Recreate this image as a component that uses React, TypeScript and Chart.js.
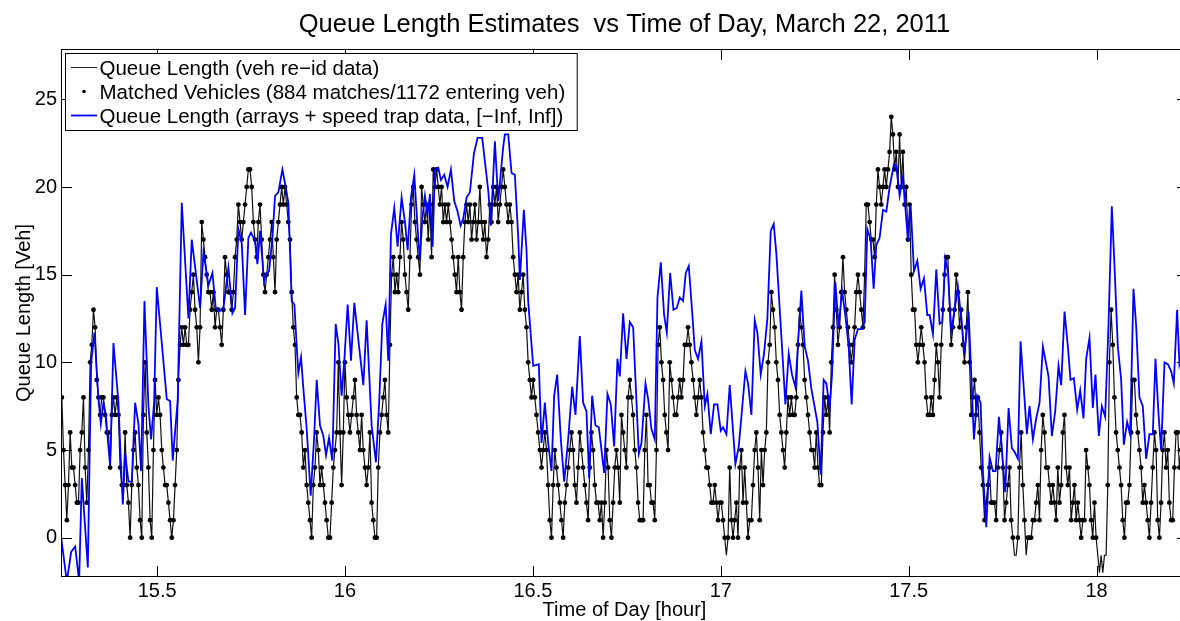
import { useEffect, useRef } from 'react';
import { Chart, registerables } from 'chart.js';

Chart.register(...registerables);

const FONT = "'Liberation Sans', Arial, Helvetica, sans-serif";

const chartTitle = 'Queue Length Estimates  vs Time of Day, March 22, 2011';
const xAxisTitle = 'Time of Day [hour]';
const yAxisTitle = 'Queue Length [Veh]';
const seriesLabels = [
  'Queue Length (veh re\u2212id data)',
  'Matched Vehicles (884 matches/1172 entering veh)',
  'Queue Length (arrays + speed trap data, [\u2212Inf, Inf])',
];

const xTicks = [15.5, 16, 16.5, 17, 17.5, 18];
const yTicks = [0, 5, 10, 15, 20, 25];
const xLimits = [15.2442, 18.2435];
const yLimits = [-2.24, 27.87];

// Re-identification queue estimate, one sample every ~16 s
const reidStartHour = 15.2464;
const reidStepHour = 0.0044325;
const reidQueue = [
  8, 5, 3, 1, 3, 6, 4, 4, 3, 2, 2, 5, 6, 8, 4, 2, 5, 10, 11, 13, 12, 9, 8, 7, 8, 8, 7, 6, 6, 4,
  7, 8, 7, 8, 7, 4, 3, 3, 6, 3, 2, 0, 3, 5, 6, 4, 3, 1, 0, 7, 10, 6, 4, 1, 0, 5, 9, 7, 8, 7,
  5, 4, 3, 3, 2, 1, 0, 1, 3, 5, 9, 11, 12, 11, 12, 11, 11, 13, 14, 15, 13, 12, 10, 12,
  18, 17, 16, 15, 14, 14, 13, 14, 12, 13, 13, 12, 11, 13, 16, 15, 14, 14, 13, 14, 16, 17, 19, 18, 17, 18, 19, 20, 21, 21,
  20, 18, 17, 16, 18, 19, 17, 15, 14, 15, 16, 17, 18, 16, 14, 17, 18, 19, 20, 19, 20, 19, 18, 17, 14, 12, 11, 8, 7, 7,
  6, 4, 5, 3, 2, 1, 0, 3, 4, 6, 5, 3, 4, 3, 2, 1, 0, 0, 2, 4, 5, 6, 10, 6,
  3, 6, 10, 8, 7, 6, 7, 8, 9, 7, 6, 5, 7, 5, 4, 3, 4, 6, 2, 1, 0, 0, 4, 6, 7, 8, 9, 7, 6, 11,
  15, 16, 14, 15, 14, 16, 18, 17, 15, 14, 13, 16, 19, 20, 18, 17, 16, 15, 20, 19, 18, 19, 17, 19, 16, 21, 20, 21, 20, 19,
  20, 18, 19, 18, 19, 18, 17, 16, 15, 14, 16, 14, 13, 16, 18, 19, 18, 19, 17, 18, 19, 17, 18, 20,
  18, 17, 18, 16, 17, 19, 18, 20, 19, 20, 18, 19, 20, 21, 20, 19, 18, 19, 18, 16, 15, 14, 15, 13, 14, 15, 13, 12, 10, 9,
  8, 9, 8, 7, 6, 5, 4, 5, 6, 5, 3, 1, 0, 3, 5, 4, 3, 2, 1, 0, 2, 3, 4, 5, 6, 5, 3, 2, 4, 6,
  5, 4, 3, 2, 1, 4, 6, 5, 3, 2, 2, 1, 2, 0, 2, 5, 4, 1, 0, 2, 4, 5, 4, 2,
  7, 6, 5, 4, 8, 9, 8, 7, 5, 4, 2, 1, 1, 1, 5, 7, 3, 3, 2, 2, 1, 5, 11, 12, 10, 9, 7, 6, 5, 10,
  9, 8, 7, 7, 8, 9, 8, 9, 11, 11, 12, 11, 10, 9, 8, 7, 8, 9, 8, 6, 5, 4, 4, 3, 2, 2, 3, 2, 1, 2,
  2, 1, 0, -1, 0, 4, 1, 0, 1, 2, 0, 4, 5, 2, 4, 2, 0, 1, 1, 3, 5, 6, 4, 1,
  5, 3, 5, 6, 10, 11, 14, 13, 12, 10, 9, 7, 6, 5, 4, 6, 8, 7, 8, 7, 7, 8, 11, 13, 12, 11, 9, 8, 7, 6,
  5, 5, 4, 6, 4, 3, 3, 6, 8, 7, 8, 6, 10, 12, 15, 13, 11, 12, 14, 16, 14, 13, 12, 11, 10, 11, 12, 14, 15, 14,
  13, 12, 15, 19, 19, 18, 17, 17, 16, 19, 21, 20, 19, 20, 21, 20, 21, 22, 24, 23, 21, 22, 20, 23,
  20, 22, 19, 20, 17, 19, 15, 13, 13, 11, 10, 11, 12, 11, 10, 8, 7, 7, 8, 7, 9, 11, 10, 8, 11, 13, 15, 16, 16, 13,
  11, 12, 13, 15, 14, 12, 13, 11, 10, 12, 14, 10, 7, 8, 9, 7, 8, 6, 4, 3, 1, 2, 3, 4, 2, 2, 2, 1, 4, 5,
  6, 4, 1, 2, 3, 4, 1, 0, -1, -1, 0, 4, 6, 3, 1, -1, 0, 0, 0, 1, 1, 2, 3, 1,
  5, 7, 6, 4, 4, 3, 2, 3, 2, 1, 4, 2, 3, 6, 7, 4, 3, 4, 1, 2, 3, 1, 2, 1, 0, 1, 1, 5, 4, 3,
  1, 0, 2, 0, -1, -2, -1, -2, -1, -1, 3, 10, 13, 11, 8, 6, 5, 4, 3, 1, 0, 2, 2, 3, 6, 9, 9, 7, 6, 5,
  4, 2, 3, 2, 1, 0, 2, 4, 6, 5, 1, 0, 2, 5, 6, 4, 5, 2, 1, 1, 4, 6, 6, 4, 5, 6,
];

// Detector-array / speed-trap queue estimate
const loopHours = [
  15.2447, 15.2597, 15.2713, 15.2819, 15.2925, 15.2996, 15.3156, 15.3244, 15.3333, 15.3439,
  15.3502, 15.3572, 15.3635, 15.3688, 15.3750, 15.3838, 15.3909, 15.3971, 15.4033, 15.4087,
  15.4149, 15.4237, 15.4326, 15.4415, 15.4503, 15.4574, 15.4663, 15.4769, 15.4840, 15.4920,
  15.4991, 15.5257, 15.5345, 15.5416, 15.5549, 15.5656, 15.5833, 15.5922, 15.6144, 15.6233,
  15.6366, 15.6472, 15.6561, 15.6649, 15.6765, 15.6898, 15.7004, 15.7075, 15.7163, 15.7252,
  15.7341, 15.7429, 15.7500, 15.7607, 15.7669, 15.7740, 15.7846, 15.7890, 15.7979, 15.8068,
  15.8139, 15.8227, 15.8334, 15.8405, 15.8493, 15.8582, 15.8653, 15.8715, 15.8759, 15.8830,
  15.8892, 15.8981, 15.9087, 15.9176, 15.9247, 15.9335, 15.9424, 15.9495, 15.9575, 15.9663,
  15.9752, 15.9823, 15.9911, 15.9982, 16.0071, 16.0160, 16.0248, 16.0355, 16.0488, 16.0576,
  16.0709, 16.0824, 16.0913, 16.0993, 16.1082, 16.1152, 16.1223, 16.1312, 16.1401, 16.1507,
  16.1596, 16.1667, 16.1755, 16.1844, 16.1933, 16.1995, 16.2057, 16.2128, 16.2198, 16.2261,
  16.2331, 16.2394, 16.2482, 16.2553, 16.2642, 16.2730, 16.2819, 16.2908, 16.2996, 16.3076,
  16.3147, 16.3236, 16.3324, 16.3431, 16.3528, 16.3652, 16.3812, 16.3883, 16.3989, 16.4078,
  16.4211, 16.4255, 16.4344, 16.4432, 16.4521, 16.4609, 16.4654, 16.4760, 16.4831, 16.4875,
  16.5008, 16.5159, 16.5230, 16.5319, 16.5407, 16.5496, 16.5567, 16.5647, 16.5744, 16.5833,
  16.5939, 16.6046, 16.6134, 16.6249, 16.6338, 16.6427, 16.6498, 16.6577, 16.6666, 16.6755,
  16.6897, 16.6985, 16.7074, 16.7163, 16.7251, 16.7313, 16.7402, 16.7491, 16.7580, 16.7669,
  16.7731, 16.7819, 16.7890, 16.7997, 16.8068, 16.8156, 16.8245, 16.8316, 16.8404, 16.8493,
  16.8564, 16.8653, 16.8741, 16.8830, 16.8910, 16.8998, 16.9069, 16.9149, 16.9238, 16.9309,
  16.9397, 16.9486, 16.9575, 16.9645, 16.9734, 16.9823, 16.9911, 17.0000, 17.0062, 17.0151,
  17.0239, 17.0390, 17.0479, 17.0656, 17.0727, 17.0816, 17.0904, 17.0975, 17.1064, 17.1152,
  17.1241, 17.1330, 17.1409, 17.1480, 17.1613, 17.1720, 17.1808, 17.1897, 17.1986, 17.2074,
  17.2145, 17.2234, 17.2322, 17.2411, 17.2571, 17.2659, 17.2739, 17.2810, 17.2899, 17.2961,
  17.3049, 17.3138, 17.3227, 17.3315, 17.3404, 17.3484, 17.3564, 17.3652, 17.3759, 17.3830,
  17.3900, 17.3989, 17.4069, 17.4140, 17.4228, 17.4317, 17.4406, 17.4494, 17.4610, 17.4672,
  17.4760, 17.4849, 17.4983, 17.5053, 17.5142, 17.5231, 17.5319, 17.5408, 17.5497, 17.5559,
  17.5647, 17.5736, 17.5825, 17.5896, 17.5975, 17.6046, 17.6135, 17.6224, 17.6312, 17.6401,
  17.6490, 17.6596, 17.6667, 17.6738, 17.6826, 17.6915, 17.6977, 17.7066, 17.7155, 17.7243,
  17.7314, 17.7403, 17.7482, 17.7571, 17.7660, 17.7748, 17.7819, 17.7908, 17.7979, 17.8085,
  17.8147, 17.8218, 17.8307, 17.8395, 17.8484, 17.8573, 17.8723, 17.8812, 17.8901, 17.8989,
  17.9060, 17.9149, 17.9238, 17.9308, 17.9397, 17.9486, 17.9566, 17.9654, 17.9725, 17.9814,
  17.9902, 17.9973, 18.0062, 18.0142, 18.0230, 18.0319, 18.0408, 18.0479, 18.0567, 18.0656,
  18.0727, 18.0815, 18.0895, 18.0984, 18.1055, 18.1143, 18.1232, 18.1321, 18.1409, 18.1498,
  18.1569, 18.1649, 18.1720, 18.1809, 18.1897, 18.1986, 18.2057, 18.2145, 18.2207, 18.2290,
  18.2380,
];
const loopQueue = [
  0, -2.5, -0.8, -0.5, -2.5, 3.4, -1.7, 10.0, 11.7, 7.9,
  6.5, 7.7, 7.0, 5.6, 4.1, 11.1, 9.3, 7.7, 4.4, 1.9,
  4.8, 3.2, 3.2, 7.7, 6.5, 3.8, 13.5, 7.5, 5.6, 7.7,
  14.3, 7.9, 7.8, 4.4, 7.9, 19.1, 12.5, 17.0, 13.1, 16.3,
  14.4, 15.1, 13.1, 12.9, 13.1, 15.4, 12.8, 13.1, 17.6, 16.8,
  12.7, 17.1, 17.4, 16.9, 15.6, 17.5, 14.6, 15.0, 15.2, 17.1,
  19.5, 19.7, 21.0, 20.2, 19.1, 13.5, 13.3, 10.9, 9.4, 10.3,
  8.5, 6.2, 2.4, 5.6, 9.0, 6.4, 5.8, 4.7, 5.7, 4.4,
  12.2, 11.1, 8.1, 10.1, 13.3, 10.1, 13.4, 11.3, 8.7, 12.4,
  6.4, 4.3, 7.9, 12.2, 13.3, 10.1, 17.3, 18.8, 16.6, 19.4,
  18.0, 16.4, 19.4, 20.7, 17.6, 15.8, 18.2, 19.5, 18.4, 19.6,
  16.6, 21.0, 21.1, 20.4, 20.7, 20.0, 21.0, 19.2, 18.6, 17.8,
  18.2, 19.4, 19.7, 21.9, 22.8, 22.8, 19.8, 17.8, 22.6, 19.2,
  22.3, 23.0, 23.0, 20.8, 20.7, 17.2, 14.7, 18.7, 16.4, 13.5,
  9.8, 9.9, 5.4, 7.7, 5.4, 3.8, 8.1, 9.3, 5.6, 3.2,
  5.6, 8.6, 7.0, 11.5, 7.7, 7.2, 3.4, 8.1, 6.4, 6.3,
  3.7, 8.2, 7.6, 5.2, 10.2, 9.2, 12.8, 10.2, 12.3, 12.0,
  9.0, 4.8, 5.4, 8.8, 7.9, 6.2, 5.6, 13.7, 15.7, 12.7,
  11.7, 15.1, 13.0, 13.1, 13.7, 13.5, 15.1, 15.5, 12.9, 10.7,
  10.2, 11.2, 7.5, 8.2, 5.9, 7.6, 7.6, 6.1, 6.3, 5.9,
  8.7, 4.2, 5.2, 9.5, 8.8, 7.0, 12.4, 11.7, 9.3, 10.5,
  12.5, 17.5, 17.9, 16.2, 11.5, 7.6, 10.5, 9.3, 8.6, 11.7,
  14.1, 10.9, 10.1, 8.5, 6.6, 3.6, 9.0, 8.8, 7.4, 9.3,
  14.6, 12.0, 14.1, 12.7, 10.9, 7.6, 11.3, 11.9, 11.9, 12.3,
  17.6, 17.0, 14.2, 16.7, 17.1, 18.7, 18.6, 20.0, 21.3, 21.2,
  19.5, 20.6, 16.9, 19.0, 15.2, 15.8, 14.2, 14.8, 12.7, 12.7,
  11.6, 15.3, 12.2, 12.3, 15.9, 15.2, 11.8, 13.0, 14.3, 12.5,
  10.5, 12.9, 9.3, 5.6, 8.1, 7.7, 3.8, 0.6, 4.6, 3.8,
  3.8, 6.9, 5.0, 2.6, 7.4, 5.1, 4.9, 4.5, 11.2, 7.9,
  5.9, 7.5, 5.6, 6.8, 7.7, 10.9, 9.2, 5.8, 7.2, 9.8,
  8.7, 12.9, 10.9, 9.0, 9.1, 7.3, 8.4, 6.8, 10.2, 11.4,
  7.4, 9.3, 5.8, 7.5, 6.9, 12.1, 18.9, 15.5, 10.9, 9.0,
  5.3, 6.6, 5.9, 14.2, 12.1, 8.0, 7.5, 4.5, 5.9, 5.9,
  10.2, 7.1, 5.0, 10.0, 9.9, 9.5, 8.8, 13.0, 9.9, 10.6,
  11.5,
];

const TICK_LEN = 11;

// MATLAB-style frame: inward ticks on all four sides, box, legend and texts
const matlabFrame = {
  id: 'matlabFrame',
  beforeDatasetsDraw(chart: any) {
    const { ctx, chartArea: a, scales } = chart;
    ctx.save();
    ctx.strokeStyle = '#000';
    ctx.lineWidth = 1;
    ctx.beginPath();
    for (const v of xTicks) {
      const px = Math.round(scales.x.getPixelForValue(v)) + 0.5;
      ctx.moveTo(px, a.bottom);
      ctx.lineTo(px, a.bottom - TICK_LEN);
      ctx.moveTo(px, a.top);
      ctx.lineTo(px, a.top + TICK_LEN);
    }
    for (const v of yTicks) {
      const py = Math.round(scales.y.getPixelForValue(v)) + 0.5;
      ctx.moveTo(a.left, py);
      ctx.lineTo(a.left + TICK_LEN, py);
      ctx.moveTo(a.right, py);
      ctx.lineTo(a.right - TICK_LEN, py);
    }
    ctx.stroke();
    ctx.restore();
  },
  afterDatasetsDraw(chart: any) {
    const { ctx, chartArea: a } = chart;
    ctx.save();
    ctx.strokeStyle = '#000';
    ctx.lineWidth = 1;
    ctx.strokeRect(a.left + 0.5, a.top + 0.5, a.right - a.left, a.bottom - a.top - 1);

    // legend box
    ctx.font = `20.5px ${FONT}`;
    const boxX = a.left + 4.5;
    const boxY = a.top + 4.5;
    const textX = a.left + 38.5;
    const maxW = Math.max(...seriesLabels.map((t) => ctx.measureText(t).width));
    const boxW = textX + maxW + 12 - boxX;
    const boxH = 77;
    ctx.fillStyle = '#fff';
    ctx.fillRect(boxX, boxY, boxW, boxH);
    ctx.strokeRect(boxX, boxY, boxW, boxH);
    const rows = [boxY + 14, boxY + 38, boxY + 62];
    const sx0 = a.left + 10;
    const sx1 = a.left + 36;
    ctx.beginPath();
    ctx.strokeStyle = '#222';
    ctx.lineWidth = 1;
    ctx.moveTo(sx0, rows[0]);
    ctx.lineTo(sx1, rows[0]);
    ctx.stroke();
    ctx.beginPath();
    ctx.fillStyle = '#000';
    ctx.arc((sx0 + sx1) / 2, rows[1], 1.8, 0, Math.PI * 2);
    ctx.fill();
    ctx.beginPath();
    ctx.strokeStyle = '#0000ff';
    ctx.lineWidth = 1.8;
    ctx.moveTo(sx0, rows[2]);
    ctx.lineTo(sx1, rows[2]);
    ctx.stroke();
    ctx.fillStyle = '#000';
    ctx.textAlign = 'left';
    ctx.textBaseline = 'alphabetic';
    seriesLabels.forEach((t, i) => ctx.fillText(t, textX, rows[i] + 7.5));
    ctx.restore();
  },
  afterDraw(chart: any) {
    const { ctx, chartArea: a } = chart;
    const cx = (a.left + a.right) / 2;
    ctx.save();
    ctx.fillStyle = '#000';
    ctx.textAlign = 'center';
    ctx.textBaseline = 'alphabetic';
    ctx.font = `25.5px ${FONT}`;
    ctx.fillText(chartTitle, cx, 31.5);
    ctx.font = `20px ${FONT}`;
    ctx.fillText(xAxisTitle, cx, 616);
    ctx.translate(30, (a.top + a.bottom) / 2);
    ctx.rotate(-Math.PI / 2);
    ctx.fillText(yAxisTitle, 0, 0);
    ctx.restore();
  },
};

export default function App() {
  const canvasRef = useRef<HTMLCanvasElement | null>(null);

  useEffect(() => {
    const canvas = canvasRef.current;
    if (!canvas) return;

    const reidPoints = reidQueue.map((q, i) => ({ x: reidStartHour + i * reidStepHour, y: q }));
    const matchedPoints = reidPoints.filter((p) => p.y >= 0);
    const loopPoints = loopHours.map((h, i) => ({ x: h, y: loopQueue[i] }));

    const tickFont = { family: FONT, size: 20 };

    const chart = new Chart(canvas, {
      type: 'scatter',
      data: {
        datasets: [
          {
            label: seriesLabels[2],
            data: loopPoints,
            showLine: true,
            borderColor: '#0000ff',
            borderWidth: 1.8,
            pointRadius: 0,
            tension: 0,
            clip: 0,
            order: 0,
          },
          {
            label: seriesLabels[1],
            data: matchedPoints,
            showLine: false,
            pointRadius: 2.4,
            pointBackgroundColor: '#000',
            pointBorderWidth: 0,
            clip: 0,
            order: 1,
          },
          {
            label: seriesLabels[0],
            data: reidPoints,
            showLine: true,
            borderColor: '#111',
            borderWidth: 1.2,
            pointRadius: 0,
            tension: 0,
            clip: 0,
            order: 2,
          },
        ],
      },
      options: {
        responsive: false,
        animation: false,
        devicePixelRatio: 1,
        events: [],
        layout: { padding: { top: 49, right: 12, left: 0, bottom: 0 } },
        plugins: {
          legend: { display: false },
          tooltip: { enabled: false },
          title: { display: false },
        },
        scales: {
          x: {
            type: 'linear',
            min: xLimits[0],
            max: xLimits[1],
            grid: { display: false, drawTicks: false },
            border: { display: false },
            ticks: {
              font: tickFont,
              color: '#000',
              padding: 2,
              maxRotation: 0,
              autoSkip: false,
              callback: (v: any) => String(v),
            },
            afterBuildTicks: (s: any) => {
              s.ticks = xTicks.map((v) => ({ value: v }));
            },
            afterFit: (s: any) => {
              s.height = 44;
            },
          },
          y: {
            type: 'linear',
            min: yLimits[0],
            max: yLimits[1],
            grid: { display: false, drawTicks: false },
            border: { display: false },
            ticks: {
              font: tickFont,
              color: '#000',
              padding: 4,
              autoSkip: false,
              callback: (v: any) => String(v),
            },
            afterBuildTicks: (s: any) => {
              s.ticks = yTicks.map((v) => ({ value: v }));
            },
            afterFit: (s: any) => {
              s.width = 61;
            },
          },
        },
      },
      plugins: [matlabFrame],
    } as any);

    return () => chart.destroy();
  }, []);

  return (
    <div
      style={{
        position: 'fixed',
        left: 0,
        top: 0,
        width: 1180,
        height: 621,
        overflow: 'hidden',
        background: '#fff',
      }}
    >
      <canvas ref={canvasRef} width={1200} height={621} style={{ display: 'block', width: 1200, height: 621 }} />
    </div>
  );
}
